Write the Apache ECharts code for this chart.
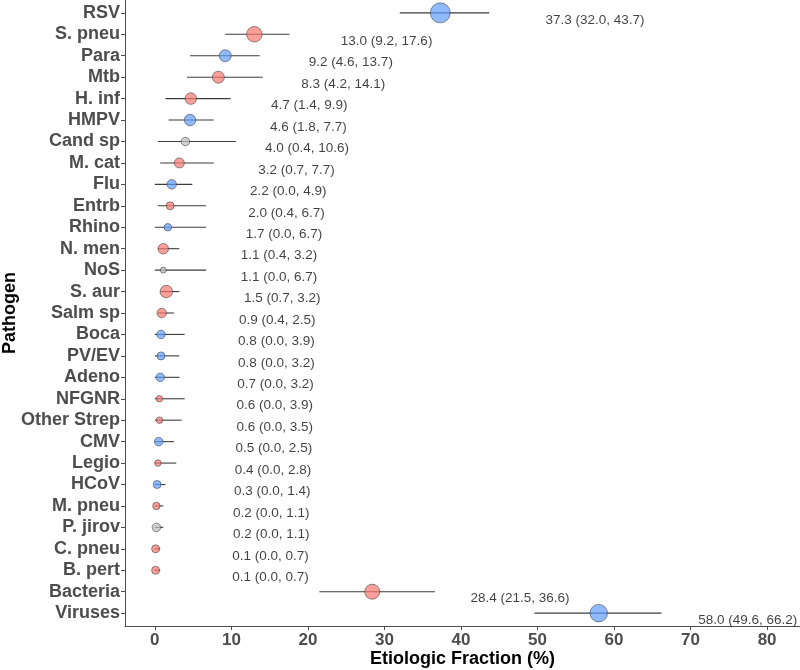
<!DOCTYPE html>
<html>
<head>
<meta charset="utf-8">
<script src="https://cdn.jsdelivr.net/npm/echarts@6/dist/echarts.min.js"></script>
<style>html,body{margin:0;padding:0;background:#fff}#c{width:800px;height:670px}</style>
</head>
<body>
<div id="c"></div>
<script>
const categories = ['RSV','S. pneu','Para','Mtb','H. inf','HMPV','Cand sp','M. cat','Flu','Entrb','Rhino','N. men','NoS','S. aur','Salm sp','Boca','PV/EV','Adeno','NFGNR','Other Strep','CMV','Legio','HCoV','M. pneu','P. jirov','C. pneu','B. pert','Bacteria','Viruses'];
const estimates = [37.3,13.0,9.2,8.3,4.7,4.6,4.0,3.2,2.2,2.0,1.7,1.1,1.1,1.5,0.9,0.8,0.8,0.7,0.6,0.6,0.5,0.4,0.3,0.2,0.2,0.1,0.1,28.4,58.0];
const lower = [32.0,9.2,4.6,4.2,1.4,1.8,0.4,0.7,0.0,0.4,0.0,0.4,0.0,0.7,0.4,0.0,0.0,0.0,0.0,0.0,0.0,0.0,0.0,0.0,0.0,0.0,0.0,21.5,49.6];
const upper = [43.7,17.6,13.7,14.1,9.9,7.7,10.6,7.7,4.9,6.7,6.7,3.2,6.7,3.2,2.5,3.9,3.2,3.2,3.9,3.5,2.5,2.8,1.4,1.1,1.1,0.7,0.7,36.6,66.2];
const groups = ['Virus','Bacteria','Virus','Bacteria','Bacteria','Virus','Other','Bacteria','Virus','Bacteria','Virus','Bacteria','Other','Bacteria','Bacteria','Virus','Virus','Virus','Bacteria','Bacteria','Virus','Bacteria','Virus','Bacteria','Other','Bacteria','Bacteria','Bacteria','Virus'];
const weights = [20,15.5,12,12,11.5,11.5,8.5,10,9.5,8,7.5,10.5,6,12.5,9.5,8.5,8,8.5,6.5,6.5,8.5,6.5,8,7.5,8.5,8,8,15,17.5];
const xTicks = [0,10,20,30,40,50,60,70,80];

const X_MIN = -3.9, X_MAX = 84.3;
const colorMap = {Bacteria:'rgba(248,118,109,0.88)', Virus:'rgba(97,156,255,0.88)', Other:'rgba(190,190,190,0.9)'};
const fmt = v => v.toFixed(1);

const rows = categories.map((c,i)=>({name:c, y:i+1, est:estimates[i], lo:lower[i], hi:upper[i], g:groups[i], w:weights[i]}));

const chart = echarts.init(document.getElementById('c'), null, {renderer:'canvas'});
chart.setOption({
  animation:false,
  backgroundColor:'#fff',
  grid:{left:125, right:0, top:0, bottom:44, containLabel:false, outerBoundsMode:'none'},
  xAxis:{
    type:'value', min:X_MIN, max:X_MAX,
    name:'Etiologic Fraction (%)', nameLocation:'middle', nameGap:24, nameMoveOverlap:false,
    nameTextStyle:{fontFamily:'Liberation Sans', fontWeight:'bold', fontSize:18, color:'#000'},
    axisLine:{show:true, onZero:false, lineStyle:{color:'#4D4D4D', width:1}},
    axisTick:{show:true, length:4, lineStyle:{color:'#4D4D4D'}, customValues:xTicks},
    axisLabel:{customValues:xTicks, fontFamily:'Liberation Sans', fontWeight:'bold', fontSize:17, color:'#4D4D4D', margin:6},
    splitLine:{show:false}
  },
  yAxis:{
    type:'value', min:0.4, max:categories.length+0.6, inverse:true,
    name:'Pathogen', nameLocation:'middle', nameGap:106, nameRotate:90, nameMoveOverlap:false,
    nameTextStyle:{fontFamily:'Liberation Sans', fontWeight:'bold', fontSize:18, color:'#000'},
    axisLine:{show:true, onZero:false, lineStyle:{color:'#4D4D4D', width:1}},
    axisTick:{show:true, length:4, lineStyle:{color:'#4D4D4D'}, customValues:rows.map(r=>r.y)},
    axisLabel:{customValues:rows.map(r=>r.y), formatter:v=>categories[Math.round(v)-1]||'', fontFamily:'Liberation Sans', fontWeight:'bold', fontSize:18, color:'#4D4D4D', margin:5},
    splitLine:{show:false}
  },
  series:[
    {
      type:'custom',
      data: rows.map(r=>[r.lo, r.hi, r.y]),
      renderItem:(params, api)=>{
        const p1 = api.coord([api.value(0), api.value(2)]);
        const p2 = api.coord([api.value(1), api.value(2)]);
        return {type:'line', shape:{x1:p1[0], y1:p1[1], x2:p2[0], y2:p2[1]}, style:{stroke:'#3d3d3d', lineWidth:1.1}};
      },
      z:1, silent:true
    },
    {
      type:'scatter',
      data: rows.map(r=>({value:[r.est, r.y], symbolSize:r.w, itemStyle:{color:colorMap[r.g]}})),
      itemStyle:{borderColor:'#3a3a3a', borderWidth:0.7},
      z:2, silent:true
    },
    {
      type:'scatter',
      data: rows.map(r=>({value:[Math.min(r.est*1.1+10, X_MAX-13.3), r.y], txt: fmt(r.est)+' ('+fmt(r.lo)+', '+fmt(r.hi)+')'})),
      symbolSize:0,
      label:{show:true, position:[0,0], align:'left', verticalAlign:'middle', offset:[0,7],
        formatter:p=>p.data.txt, fontFamily:'Liberation Sans', fontSize:13.5, color:'#111'},
      z:3, silent:true
    }
  ]
});
</script>
</body>
</html>
